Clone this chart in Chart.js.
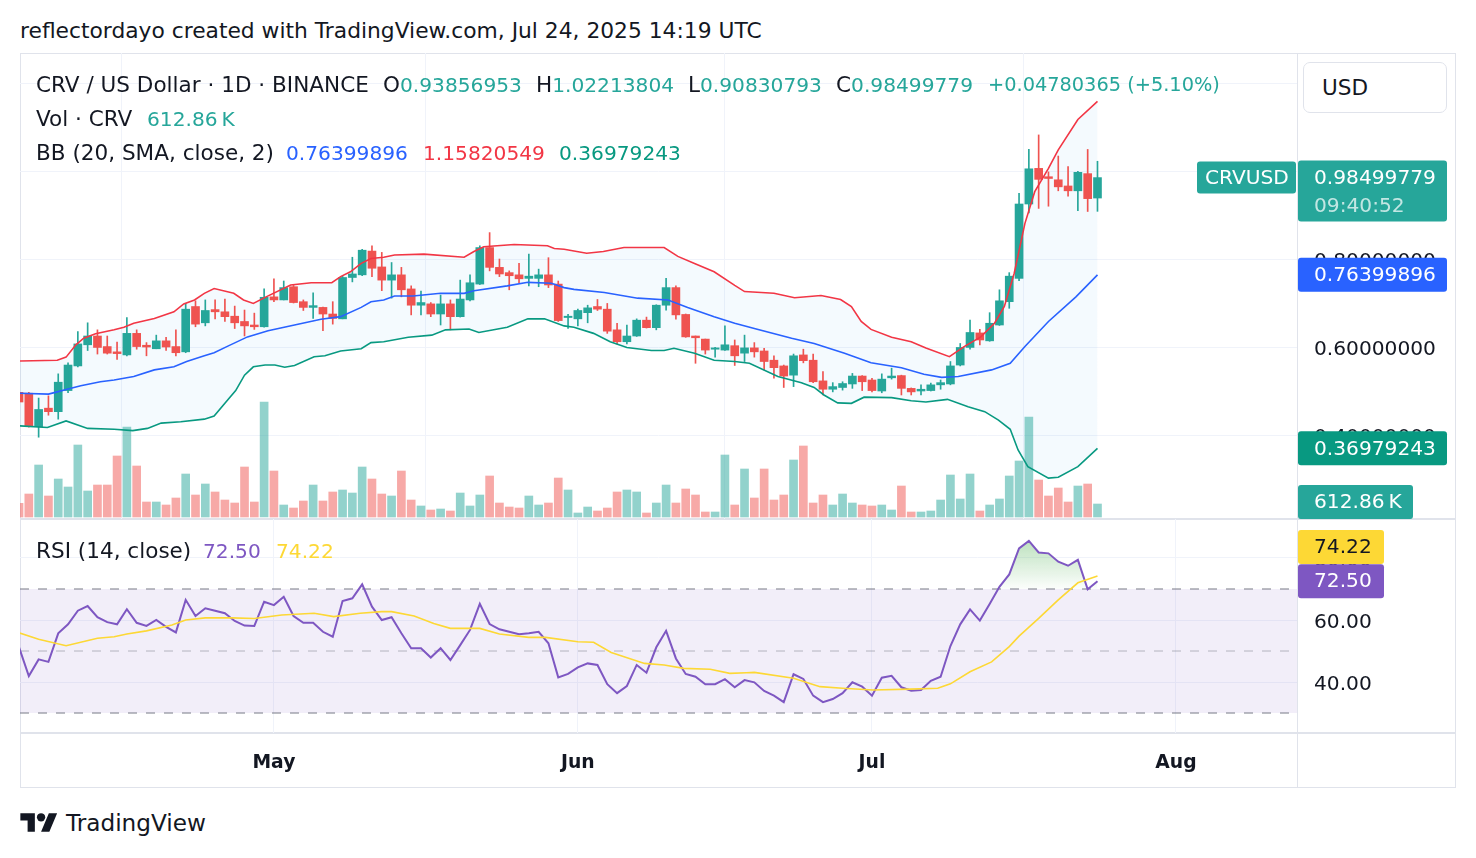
<!DOCTYPE html>
<html>
<head>
<meta charset="utf-8">
<title>CRV / US Dollar · 1D · BINANCE</title>
<script src="https://cdn.jsdelivr.net/npm/chart.js@4.4.1/dist/chart.umd.min.js"></script>
<style>
  body { margin: 0; background: #fff; }
  #page { position: relative; width: 1476px; height: 858px; overflow: hidden;
          font-family: 'DejaVu Sans', sans-serif; color: #131722; }
  .t { position: absolute; white-space: nowrap; line-height: 1; transform: translateY(-50%); z-index: 3; }
  .leg { font-size: var(--leg, 21px); }
  .num { font-size: var(--num, 20px); }
  .up { color: #26a69a; }
  .ln { position: absolute; background: #e0e3eb; }
  canvas { position: absolute; z-index: 1; }
  #usd { position: absolute; left: 1303px; top: 62px; width: 144px; height: 51px; box-sizing: border-box;
         border: 1px solid #e0e3eb; border-radius: 7px; background: #fff; z-index: 2; }
</style>
</head>
<body>
<div id="page">
  <div class="t" id="hdr" style="left:20px;top:31px">reflectordayo created with TradingView.com, Jul 24, 2025 14:19 UTC</div>

  <div class="ln" style="left:20px;top:53px;width:1436px;height:1px"></div>
  <div class="ln" style="left:20px;top:53px;width:1px;height:735px"></div>
  <div class="ln" style="left:1455px;top:53px;width:1px;height:735px"></div>
  <div class="ln" style="left:20px;top:787px;width:1436px;height:1px"></div>
  <div class="ln" style="left:1297px;top:53px;width:1px;height:735px"></div>
  <div class="ln" style="left:20px;top:518px;width:1436px;height:2px"></div>
  <div class="ln" style="left:20px;top:732px;width:1436px;height:2px"></div>

  <canvas id="price" width="1436" height="466" style="left:20px;top:53px;width:1436px;height:466px"></canvas>
  <canvas id="rsi" width="1436" height="269" style="left:20px;top:519px;width:1436px;height:269px"></canvas>

  <div id="usd"></div>
  <div class="t leg" style="left:1322px;top:88px">USD</div>

  <div class="t leg" style="left:36px;top:85px">CRV / US Dollar · 1D · BINANCE</div>
  <div class="t leg" style="left:383px;top:85px">O<span class="up num" id="vO"></span></div>
  <div class="t leg" style="left:536px;top:85px">H<span class="up num" id="vH"></span></div>
  <div class="t leg" style="left:688px;top:85px">L<span class="up num" id="vL"></span></div>
  <div class="t leg" style="left:836px;top:85px">C<span class="up num" id="vC"></span></div>
  <div class="t up" style="left:988px;top:85px" id="vChg"></div>

  <div class="t leg" style="left:36px;top:119px">Vol · CRV</div>
  <div class="t num up" style="left:147px;top:119px" id="vVol"></div>

  <div class="t leg" style="left:36px;top:153px">BB (20, SMA, close, 2)</div>
  <div class="t num" style="left:286px;top:153px;color:#2962ff" id="vBBm"></div>
  <div class="t num" style="left:423px;top:153px;color:#f23645" id="vBBu"></div>
  <div class="t num" style="left:559px;top:153px;color:#089981" id="vBBl"></div>

  <div class="t leg" style="left:36px;top:551px">RSI (14, close)</div>
  <div class="t num" style="left:203px;top:551px;color:#7e57c2" id="vRsi"></div>
  <div class="t num" style="left:276px;top:551px;color:#fdd835" id="vRsiMa"></div>

  <svg style="position:absolute;left:20px;top:809px" width="38" height="29" viewBox="0 0 36 28">
    <path d="M14 22H7V11H0V4h14v18zM28 22h-8l7.5-18h8L28 22z" fill="#131722"/>
    <circle cx="20" cy="8" r="4" fill="#131722"/>
  </svg>
  <div class="t" id="logo" style="left:66px;top:823px">TradingView</div>
</div>

<script>
// daily candles, Apr 5 2025 (day 0) .. Jul 24 2025 (day 110)
const open = [
  .497,.495,.419,.461,.453,.501,.557,.605,.625,.601,
  .589,.582,.631,.604,.596,.614,.601,.589,.692,.655,
  .685,.680,.670,.658,.650,.646,.714,.707,.737,.703,
  .690,.690,.675,.664,.758,.764,.818,.782,.752,.764,
  .732,.695,.698,.675,.698,.669,.707,.743,.826,.781,
  .769,.764,.756,.756,.764,.743,.667,.664,.678,.692,
  .686,.639,.612,.625,.661,.644,.695,.735,.674,.625,
  .618,.595,.593,.603,.586,.598,.591,.570,.557,.536,
  .582,.570,.523,.504,.508,.516,.534,.525,.500,.530,
  .535,.506,.500,.501,.514,.516,.559,.599,.632,.614,
  .650,.703,.756,.925,1.006,.987,.980,.966,.955,.994,
  .93856953];
const high = [
  .505,.497,.484,.489,.539,.564,.635,.655,.639,.625,
  .611,.667,.639,.610,.627,.622,.639,.699,.705,.707,
  .707,.709,.693,.684,.677,.732,.755,.750,.740,.707,
  .723,.691,.703,.761,.804,.822,.830,.815,.792,.781,
  .739,.727,.701,.718,.707,.752,.764,.830,.860,.800,
  .773,.790,.811,.777,.803,.750,.674,.686,.695,.708,
  .699,.654,.650,.664,.668,.696,.756,.739,.675,.625,
  .618,.599,.648,.616,.627,.610,.597,.580,.559,.584,
  .595,.584,.544,.519,.521,.540,.535,.529,.539,.552,
  .536,.507,.514,.518,.525,.567,.608,.661,.640,.678,
  .730,.769,.949,1.049,1.082,.998,1.034,1.010,.999,1.049,
  1.02213804];
const low = [
  .470,.418,.395,.445,.436,.496,.555,.592,.584,.584,
  .572,.580,.595,.580,.596,.592,.580,.587,.646,.648,
  .664,.658,.642,.625,.640,.645,.703,.707,.700,.683,
  .665,.637,.652,.664,.748,.762,.760,.728,.711,.714,
  .673,.673,.669,.650,.639,.668,.705,.742,.773,.760,
  .730,.746,.739,.737,.735,.658,.642,.648,.655,.683,
  .631,.607,.607,.624,.643,.639,.684,.663,.622,.563,
  .584,.577,.592,.558,.567,.577,.548,.529,.508,.510,
  .564,.519,.491,.498,.502,.506,.501,.498,.496,.527,
  .491,.491,.491,.500,.504,.514,.557,.595,.605,.613,
  .649,.688,.751,.905,.915,.920,.955,.943,.910,.908,
  .90830793];
const close = [
  .475,.420,.458,.453,.520,.559,.607,.625,.599,.586,
  .585,.631,.601,.600,.614,.600,.587,.686,.652,.683,
  .680,.669,.655,.648,.646,.713,.707,.735,.701,.690,
  .694,.675,.665,.758,.766,.820,.779,.752,.764,.730,
  .695,.701,.675,.698,.669,.709,.746,.826,.781,.766,
  .762,.755,.761,.764,.741,.660,.670,.683,.689,.686,
  .636,.612,.625,.661,.644,.695,.735,.673,.623,.621,
  .593,.598,.605,.580,.598,.589,.567,.553,.534,.580,
  .569,.521,.504,.510,.517,.534,.521,.501,.527,.534,
  .506,.498,.504,.514,.519,.557,.599,.633,.616,.654,
  .705,.761,.925,1.005,.981,.983,.964,.955,.997,.9372,
  .98499779];
// volume in thousands of CRV
const volume = [
  646,1084,2451,990,1791,1414,3394,1226,1508,1508,
  2876,4243,2404,707,707,566,896,2027,1037,1556,
  1179,801,660,2357,707,5421,2168,566,424,754,
  1508,754,1179,1273,1131,2357,1791,1084,990,2168,
  801,519,330,377,283,1131,519,1037,1933,660,
  471,424,990,566,660,1838,1273,189,471,283,
  424,1179,1273,1179,189,660,1508,660,1320,1037,
  236,236,2923,566,2263,896,2263,801,1037,2687,
  3347,660,1037,566,1084,660,566,519,566,330,
  1461,236,236,283,801,1980,849,2027,283,566,
  849,1933,2640,4714,1744,990,1367,707,1461,1556,
  612.86];

// Bollinger bands: [day, value]
const bbUpper = [[0,.568],[3.9,.570],[4.8,.577],[5.8,.605],[6.6,.620],[7.8,.630],[9.7,.639],[10.7,.645],
  [11.7,.654],[13.8,.665],[15.8,.680],[16.8,.698],[17.9,.707],[18.9,.722],[19.9,.733],[21.9,.722],[22.9,.707],
  [23.9,.699],[25.2,.714],[27.7,.741],[29.8,.746],[31.9,.746],[32.8,.760],[33.8,.771],[34.9,.790],[35.9,.801],
  [37.2,.804],[38.3,.809],[41.3,.811],[45.4,.804],[46.4,.817],[47.4,.828],[50.5,.833],[53.9,.830],[54.6,.824],
  [55.6,.822],[57.9,.813],[59.6,.817],[61.7,.826],[65.8,.826],[67.2,.806],[68.9,.790],[70.9,.771],[73,.740],
  [74,.726],[77,.722],[79.1,.712],[81.8,.717],[83.8,.708],[84.9,.692],[85.9,.658],[86.9,.640],[89,.622],
  [91,.612],[92.5,.598],[94.9,.578],[96.4,.601],[98.1,.623],[99.5,.654],[100.5,.692],[101.5,.767],
  [102.6,.881],[103.6,.953],[105,1.006],[106,1.048],[108,1.117],[110,1.15820549]];
const bbBasis = [[0,.495],[3,.493],[3.9,.498],[4.9,.504],[6.3,.512],[8.3,.521],[9.7,.525],[11.7,.533],
  [13.8,.548],[15.8,.555],[17.1,.567],[18.9,.580],[19.9,.587],[21.3,.602],[23.3,.623],[25.4,.637],[28.1,.650],
  [30.8,.663],[32.8,.669],[34.9,.690],[35.9,.703],[37.2,.707],[38.3,.716],[40.2,.716],[43,.722],[45.4,.722],
  [46.4,.728],[49.8,.739],[51.9,.747],[54.3,.745],[55.6,.735],[56.6,.731],[59.7,.724],[63.1,.711],[66.2,.707],
  [68.2,.690],[70.9,.669],[73,.654],[75,.642],[78.8,.620],[81.1,.608],[84.2,.586],[86.9,.564],[90,.553],
  [92.3,.538],[94.1,.531],[95.8,.533],[99.2,.548],[101.1,.563],[102.6,.601],[105,.658],[107.8,.714],
  [110,.76399896]];
const bbLower = [[0,.421],[2.9,.417],[4.8,.432],[7,.415],[9.7,.413],[11.6,.410],[13.1,.415],[14.5,.427],
  [16.5,.430],[18.9,.436],[19.9,.443],[21.3,.480],[22.1,.501],[23,.536],[23.9,.555],[25.1,.559],[26.1,.559],
  [27.1,.554],[28.1,.558],[30.1,.578],[31.2,.580],[32.8,.591],[34.9,.596],[35.9,.610],[37.2,.612],[39.7,.622],
  [42.1,.627],[43.5,.639],[45.9,.641],[46.9,.633],[49.8,.645],[51.9,.664],[53.6,.664],[55.6,.648],[56.6,.645],
  [58.6,.631],[60.3,.612],[62,.599],[64.5,.592],[65.8,.592],[66.8,.597],[68.9,.586],[70.9,.570],[73,.567],
  [74.5,.563],[77.4,.533],[79.8,.519],[81.1,.508],[82.1,.491],[83.5,.473],[84.9,.472],[86.2,.486],[89,.485],
  [91,.478],[92.5,.475],[94.7,.481],[96.8,.464],[98.5,.453],[99.9,.434],[101.1,.413],[101.9,.366],
  [102.9,.328],[105,.302],[106,.304],[108,.328],[110,.36979243]];

// RSI(14) per day and its moving average [day, value]
const rsi = [
  51.2,41.9,47.3,46.5,55.7,58.6,63.0,64.5,60.9,59.3,
  58.6,63.5,59.1,58.1,60.0,57.8,56.0,66.5,61.3,63.8,
  63.0,62.2,59.7,58.2,58.1,65.9,64.8,67.5,61.3,59.1,
  59.1,56.2,54.6,66.1,67.0,71.5,64.3,60.0,60.9,55.7,
  50.9,50.9,47.9,50.9,47.1,51.9,56.8,65.2,58.7,57.0,
  56.2,55.4,55.7,56.2,52.5,41.5,42.6,44.7,46.0,45.5,
  39.3,36.4,38.7,45.5,43.0,51.2,56.5,47.6,42.6,41.7,
  39.3,39.3,40.9,38.3,40.6,39.9,37.1,35.6,33.5,42.5,
  41.0,35.6,33.5,34.5,36.4,39.9,38.5,35.6,41.4,42.0,
  38.3,37.2,37.4,40.4,41.7,51.6,58.6,63.4,59.8,65.2,
  70.7,74.7,83.1,85.5,81.8,81.5,78.8,77.5,79.4,69.9,
  72.50];
const rsiMa = [[0,55.9],[2,53.8],[4.8,51.7],[8,54.1],[9.7,54.6],[11,55.5],[13,56.5],[15.6,58.4],[17,60.0],
  [19,60.7],[21.7,60.7],[24,60.5],[26.8,61.6],[30.1,62.2],[32.1,61.1],[34.8,62.2],[37,62.7],[38,62.7],
  [40.3,61.3],[42.3,58.9],[44,57.3],[47,57.3],[49,55.5],[52,54.4],[53.7,54.4],[57,53.0],[58.6,52.8],
  [60.4,49.5],[63.8,46.0],[65.8,45.5],[67.8,44.4],[70.5,44.1],[72.5,42.8],[74.2,43.0],[75,43.1],[79,41.2],
  [81.7,38.5],[84,38.0],[87.1,37.4],[90.9,37.7],[93.7,38.0],[95,39.4],[97,43.3],[99.2,46.5],[101,51.4],
  [102,54.8],[104,60.5],[106,66.5],[108,72.0],[110,74.22]];
const rsiLevels = [70, 50, 30];

// axis ticks
const monthDays = [26, 57, 87, 118];
const monthLabels = ['May', 'Jun', 'Jul', 'Aug'];
const priceTicks = [0.4, 0.6, 0.8, 1.0, 1.2];
const rsiTicks = [40, 60, 80];
const changeText = '+0.04780365 (+5.10%)';
const countdown = '09:40:52';

const FONT = "'DejaVu Sans', sans-serif";
const GREEN = '#26a69a', RED = '#ef5350';
const X_MIN = 0.1, X_MAX = 130.35;
const last = close.length - 1;

function fitSize(text, width, weight) {
  const c = document.createElement('canvas').getContext('2d');
  c.font = `${weight || 'normal'} 100px ${FONT}`;
  return 100 * width / c.measureText(text).width;
}
const legSize = fitSize('CRV / US Dollar · 1D · BINANCE', 333);
const axisSize = fitSize('0.60000000', 122);
const monthSize = fitSize('May', 43, 'bold');
document.documentElement.style.setProperty('--leg', legSize + 'px');
document.documentElement.style.setProperty('--num', axisSize + 'px');
document.getElementById('hdr').style.fontSize = fitSize(document.getElementById('hdr').textContent, 742) + 'px';
document.getElementById('logo').style.fontSize = fitSize('TradingView', 140) + 'px';
document.getElementById('vChg').style.fontSize = fitSize(changeText, 232) + 'px';

// legend values
const fmt8 = v => v.toFixed(8);
document.getElementById('vO').textContent = fmt8(open[last]);
document.getElementById('vH').textContent = fmt8(high[last]);
document.getElementById('vL').textContent = fmt8(low[last]);
document.getElementById('vC').textContent = fmt8(close[last]);
document.getElementById('vChg').textContent = changeText;
document.getElementById('vVol').textContent = volume[last].toFixed(2) + '\u202fK';
document.getElementById('vBBm').textContent = fmt8(bbBasis[bbBasis.length - 1][1]);
document.getElementById('vBBu').textContent = fmt8(bbUpper[bbUpper.length - 1][1]);
document.getElementById('vBBl').textContent = fmt8(bbLower[bbLower.length - 1][1]);
document.getElementById('vRsi').textContent = rsi[last].toFixed(2);
document.getElementById('vRsiMa').textContent = rsiMa[rsiMa.length - 1][1].toFixed(2);

Chart.defaults.font.family = FONT;
Chart.defaults.color = '#131722';

// price tags on the right axis
function tagPlugin(items) {
  return {
    id: 'tags',
    afterDraw(chart) {
      const ctx = chart.ctx;
      items.forEach(t => {
        const y = chart.scales[t.scale].getPixelForValue(t.value) + (t.dy || 0);
        ctx.save();
        ctx.fillStyle = t.bg;
        ctx.beginPath();
        ctx.roundRect(t.x, y - t.above, t.w, t.h, 3);
        ctx.fill();
        ctx.font = `${axisSize}px ${FONT}`;
        ctx.textBaseline = 'middle';
        ctx.fillStyle = t.fg;
        ctx.fillText(t.text, t.tx, y + 1);
        if (t.sub) {
          ctx.fillStyle = t.subFg;
          ctx.fillText(t.sub, t.tx, y + 29);
        }
        ctx.restore();
      });
    }
  };
}

function timeScale(showLabels) {
  return {
    type: 'linear', min: X_MIN, max: X_MAX, offset: false,
    grid: { color: '#f0f3fa', drawTicks: false },
    border: { display: false },
    ticks: {
      display: showLabels, padding: 19, maxRotation: 0, autoSkip: false,
      font: { size: monthSize, weight: 'bold' },
      callback: v => monthLabels[monthDays.indexOf(v)]
    },
    afterBuildTicks: s => { s.ticks = monthDays.map(v => ({ value: v })); },
    afterFit: s => { s.height = showLabels ? 55 : 0; s.paddingLeft = 0; s.paddingRight = 0; }
  };
}

function valueScale(min, max, ticks, digits) {
  return {
    position: 'right', min: min, max: max,
    grid: { color: '#f0f3fa', drawTicks: false },
    border: { display: false },
    ticks: { padding: 17, labelOffset: 3, font: { size: axisSize }, callback: v => v.toFixed(digits) },
    afterBuildTicks: s => { s.ticks = ticks.map(v => ({ value: v })); },
    afterFit: s => { s.width = 159; s.paddingTop = 0; s.paddingBottom = 0; }
  };
}

const days = close.map((c, i) => i);
const candleColors = days.map(i => close[i] >= open[i] ? GREEN : RED);
const volColors = days.map(i => close[i] >= open[i] ? 'rgba(38,166,154,0.5)' : 'rgba(239,83,80,0.5)');
const bandLine = (pts, color) => ({
  type: 'line', data: pts.map(([x, y]) => ({ x, y })), borderColor: color, borderWidth: 1.6,
  pointRadius: 0, fill: false, order: 0
});

const upperDs = bandLine(bbUpper, '#f23645');
upperDs.fill = '+2';
upperDs.backgroundColor = 'rgba(33,150,243,0.05)';

new Chart(document.getElementById('price'), {
  type: 'bar',
  data: {
    datasets: [
      upperDs,
      bandLine(bbBasis, '#2962ff'),
      bandLine(bbLower, '#089981'),
      { label: 'wick', data: days.map(i => ({ x: i, y: [low[i], high[i]] })),
        backgroundColor: candleColors, barThickness: 1, order: 1 },
      { label: 'body', data: days.map(i => ({ x: i, y: [Math.min(open[i], close[i]), Math.max(open[i], close[i])] })),
        backgroundColor: candleColors, barThickness: 8, minBarLength: 1, order: 1 },
      { label: 'volume', data: days.map(i => ({ x: i, y: volume[i] })), yAxisID: 'yv',
        backgroundColor: volColors, barThickness: 8, order: 2 }
    ]
  },
  options: {
    responsive: false, animation: false, devicePixelRatio: 1,
    layout: { padding: 0 },
    datasets: { bar: { grouped: false, borderWidth: 0 } },
    plugins: { legend: { display: false }, tooltip: { enabled: false }, filler: { drawTime: 'beforeDatasetsDraw' } },
    scales: {
      x: timeScale(false),
      y: valueScale(0.2091, 1.2682, priceTicks, 8),
      yv: { display: false, min: -94, max: 21873 }
    }
  },
  plugins: [tagPlugin([
    { scale: 'y', value: close[last], x: 1177, w: 99, above: 16, h: 32, bg: GREEN, fg: '#fff', text: 'CRVUSD', tx: 1185 },
    { scale: 'y', value: close[last], x: 1278, w: 149, above: 17, h: 61, bg: GREEN, fg: '#fff',
      text: fmt8(close[last]), tx: 1294, sub: countdown, subFg: 'rgba(255,255,255,0.72)' },
    { scale: 'y', value: bbBasis[bbBasis.length - 1][1], x: 1278, w: 149, above: 17, h: 34, bg: '#2962ff', fg: '#fff',
      text: fmt8(bbBasis[bbBasis.length - 1][1]), tx: 1294 },
    { scale: 'y', value: bbLower[bbLower.length - 1][1], x: 1278, w: 149, above: 17, h: 34, bg: '#089981', fg: '#fff',
      text: fmt8(bbLower[bbLower.length - 1][1]), tx: 1294 },
    { scale: 'yv', value: volume[last], dy: -2, x: 1278, w: 115, above: 17, h: 34, bg: GREEN, fg: '#fff',
      text: volume[last].toFixed(2) + '\u202fK', tx: 1294 }
  ])]
});

// RSI panel
const rctx = document.getElementById('rsi').getContext('2d');
const obFill = rctx.createLinearGradient(0, 20, 0, 70);
obFill.addColorStop(0, 'rgba(76,175,80,0.38)');
obFill.addColorStop(1, 'rgba(76,175,80,0.02)');
const level = (v, color) => ({
  data: [{ x: X_MIN, y: v }, { x: X_MAX, y: v }], borderColor: color, borderWidth: 1,
  borderDash: [9, 9], pointRadius: 0, fill: false, order: 3
});
const lvlTop = level(rsiLevels[0], '#787b86');
lvlTop.fill = 1;
lvlTop.backgroundColor = 'rgba(126,87,194,0.1)';

new Chart(rctx, {
  type: 'line',
  data: {
    datasets: [
      lvlTop,
      level(rsiLevels[2], '#787b86'),
      level(rsiLevels[1], 'rgba(120,123,134,0.5)'),
      { data: rsi.map((y, i) => ({ x: i, y })), borderColor: '#7e57c2', borderWidth: 2, pointRadius: 0,
        fill: { target: { value: rsiLevels[0] }, above: obFill, below: 'rgba(0,0,0,0)' }, order: 2 },
      { data: rsiMa.map(([x, y]) => ({ x, y })), borderColor: '#fdd835', borderWidth: 1.6, pointRadius: 0,
        fill: false, order: 1 }
    ]
  },
  options: {
    responsive: false, animation: false, devicePixelRatio: 1,
    layout: { padding: 0 },
    plugins: { legend: { display: false }, tooltip: { enabled: false }, filler: { drawTime: 'beforeDatasetsDraw' } },
    scales: {
      x: timeScale(true),
      y: valueScale(23.55, 92.58, rsiTicks, 2)
    }
  },
  plugins: [tagPlugin([
    { scale: 'y', value: rsiMa[rsiMa.length - 1][1], dy: -29, x: 1278, w: 86, above: 17, h: 34, bg: '#fdd835', fg: '#131722',
      text: rsiMa[rsiMa.length - 1][1].toFixed(2), tx: 1294 },
    { scale: 'y', value: rsi[last], x: 1278, w: 86, above: 17, h: 34, bg: '#7e57c2', fg: '#fff',
      text: rsi[last].toFixed(2), tx: 1294 }
  ])]
});
</script>
</body>
</html>
